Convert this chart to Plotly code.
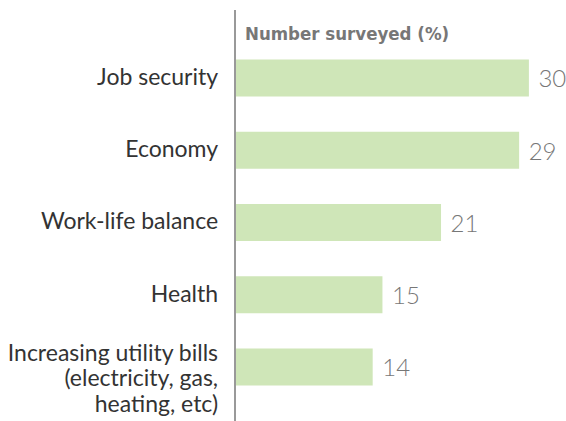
import plotly.graph_objects as go

categories = ["Job security", "Economy", "Work-life balance", "Health",
              "Increasing utility bills<br>(electricity, gas,<br>heating, etc)"]
values = [30, 29, 21, 15, 14]
title_text = "Number surveyed (%)"

# tick text: rendered at 24px, line spacing driven by the smaller tickfont
tick_text = ["<span style='font-size:23px'>" + c.replace("<br>", "</span><br><span style='font-size:23px'>") + "</span>"
             for c in categories]
tick_text[-1] = "<br>" + tick_text[-1]

fig = go.Figure(go.Bar(
    x=values, y=categories, orientation="h",
    marker=dict(color="#cfe6b8", line=dict(width=0)),
    width=0.51,
    text=[f" {v}" for v in values], textposition="outside",
    textfont=dict(family="Lato", size=24, color="#777777", weight=300),
    cliponaxis=False,
))

fig.update_layout(
    width=566, height=421,
    margin=dict(l=236, r=0, t=10, b=0),
    plot_bgcolor="white", paper_bgcolor="white",
    showlegend=False,
    xaxis=dict(range=[0, 33.8], visible=False, fixedrange=True),
    yaxis=dict(
        type="category",
        categoryorder="array", categoryarray=categories,
        tickmode="array", tickvals=categories, ticktext=tick_text,
        range=[4.748, -0.941],
        showline=True, linecolor="#999999", linewidth=2,
        showgrid=False, zeroline=False, ticks="",
        ticklabelstandoff=12,
        tickfont=dict(family="Lato", size=19.5, color="#333333", weight=400),
    ),
    annotations=[dict(
        text=title_text, xref="paper", yref="paper",
        x=(243 - 236) / 330, y=1 - (33 - 10) / 411,
        xanchor="left", yanchor="middle", showarrow=False,
        font=dict(family="DejaVu Sans Condensed, Liberation Sans Narrow, Roboto",
                  size=18.5, color="#777777", weight="bold"),
    )],
)

fig.write_html("out.html")
